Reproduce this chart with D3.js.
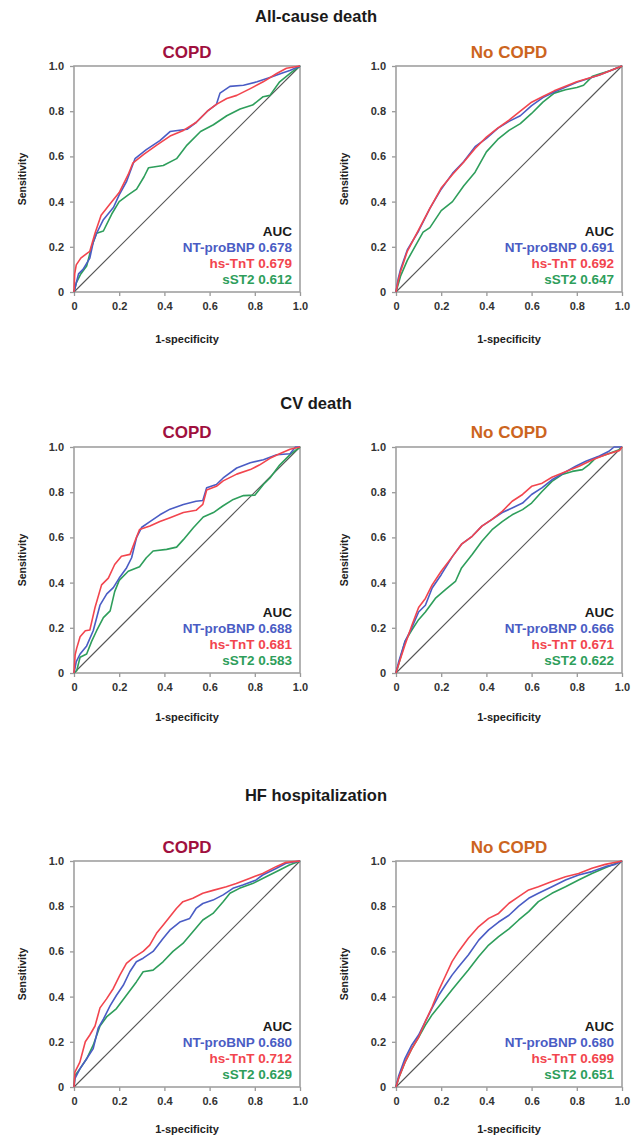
<!DOCTYPE html>
<html>
<head>
<meta charset="utf-8">
<script src="https://cdn.jsdelivr.net/npm/d3@7"></script>
<style>
  body { margin: 0; background: #fff; }
  svg { font-family: "Liberation Sans", Arial, sans-serif; }
</style>
</head>
<body>
<div id="chart"></div>
<script>
// outcomes, groups and markers
var outcomes = ["All-cause death", "CV death", "HF hospitalization"];
var groups = ["COPD", "No COPD"];
var markers = ["NT-proBNP", "hs-TnT", "sST2"];
var tickVals = [0, 0.2, 0.4, 0.6, 0.8, 1.0];

// AUC values [outcome][group][marker]
var aucAll = [["0.678", "0.679", "0.612"], ["0.691", "0.692", "0.647"]];
var aucCV = [["0.688", "0.681", "0.583"], ["0.666", "0.671", "0.622"]];
var aucHF = [["0.680", "0.712", "0.629"], ["0.680", "0.699", "0.651"]];

// ROC points [1-specificity, sensitivity]
var allCopdNT = [[0,0],[0.01,0.04],[0.02,0.08],[0.04,0.1],[0.07,0.15],[0.085,0.22],[0.1,0.26],[0.13,0.32],[0.175,0.375],[0.2,0.43],[0.233,0.49],[0.255,0.55],[0.27,0.59],[0.32,0.63],[0.38,0.67],[0.425,0.71],[0.5,0.72],[0.54,0.75],[0.59,0.8],[0.63,0.83],[0.646,0.88],[0.69,0.91],[0.75,0.915],[0.81,0.93],[0.87,0.95],[0.925,0.97],[0.955,0.98],[1,1]];
var allCopdTnT = [[0,0],[0.003,0.08],[0.01,0.12],[0.03,0.15],[0.056,0.17],[0.07,0.18],[0.093,0.26],[0.12,0.34],[0.16,0.39],[0.2,0.44],[0.24,0.52],[0.26,0.57],[0.31,0.61],[0.366,0.65],[0.425,0.69],[0.484,0.715],[0.54,0.75],[0.59,0.8],[0.63,0.83],[0.676,0.856],[0.72,0.87],[0.78,0.9],[0.837,0.93],[0.897,0.967],[0.94,0.99],[1,1]];
var allCopdST2 = [[0,0],[0.01,0.04],[0.03,0.08],[0.056,0.115],[0.078,0.2],[0.1,0.26],[0.13,0.27],[0.167,0.345],[0.2,0.4],[0.24,0.43],[0.277,0.455],[0.31,0.51],[0.33,0.55],[0.395,0.56],[0.454,0.59],[0.5,0.65],[0.56,0.71],[0.617,0.74],[0.676,0.78],[0.735,0.81],[0.79,0.827],[0.837,0.864],[0.867,0.87],[0.91,0.93],[0.956,0.967],[1,1]];

var allNoNT = [[0,0],[0.01,0.06],[0.02,0.1],[0.05,0.186],[0.1,0.27],[0.15,0.37],[0.2,0.455],[0.25,0.525],[0.3,0.577],[0.35,0.643],[0.4,0.68],[0.45,0.724],[0.5,0.755],[0.55,0.78],[0.6,0.825],[0.65,0.86],[0.7,0.885],[0.8,0.928],[0.9,0.96],[1,1]];
var allNoTnT = [[0,0],[0.01,0.05],[0.02,0.09],[0.05,0.18],[0.1,0.275],[0.15,0.37],[0.2,0.46],[0.25,0.52],[0.3,0.575],[0.35,0.635],[0.4,0.685],[0.45,0.725],[0.5,0.76],[0.55,0.8],[0.6,0.84],[0.65,0.865],[0.7,0.89],[0.8,0.93],[0.9,0.96],[1,1]];
var allNoST2 = [[0,0],[0.02,0.07],[0.05,0.14],[0.1,0.23],[0.12,0.265],[0.15,0.285],[0.2,0.36],[0.25,0.4],[0.3,0.47],[0.35,0.53],[0.4,0.62],[0.45,0.675],[0.5,0.715],[0.55,0.745],[0.6,0.79],[0.65,0.84],[0.7,0.88],[0.75,0.895],[0.8,0.905],[0.83,0.915],[0.87,0.955],[0.9,0.965],[0.95,0.98],[1,1]];

var cvCopdNT = [[0,0],[0.01,0.05],[0.027,0.084],[0.056,0.12],[0.085,0.187],[0.115,0.3],[0.145,0.35],[0.174,0.378],[0.2,0.42],[0.233,0.466],[0.255,0.51],[0.277,0.6],[0.3,0.645],[0.336,0.67],[0.38,0.7],[0.425,0.725],[0.484,0.746],[0.54,0.76],[0.57,0.763],[0.587,0.82],[0.63,0.834],[0.66,0.863],[0.72,0.907],[0.78,0.93],[0.838,0.944],[0.897,0.966],[0.956,0.97],[0.98,1],[1,1]];
var cvCopdTnT = [[0,0],[0.005,0.08],[0.012,0.11],[0.027,0.16],[0.05,0.187],[0.07,0.19],[0.093,0.29],[0.122,0.39],[0.152,0.42],[0.18,0.48],[0.21,0.517],[0.248,0.525],[0.27,0.584],[0.29,0.635],[0.336,0.65],[0.38,0.67],[0.425,0.687],[0.484,0.71],[0.54,0.72],[0.57,0.746],[0.587,0.81],[0.63,0.826],[0.66,0.85],[0.72,0.88],[0.78,0.9],[0.82,0.92],[0.867,0.95],[0.91,0.97],[0.956,0.99],[1,1]];
var cvCopdST2 = [[0,0],[0.012,0.01],[0.027,0.07],[0.056,0.084],[0.078,0.14],[0.1,0.187],[0.13,0.245],[0.16,0.275],[0.18,0.36],[0.2,0.41],[0.24,0.45],[0.29,0.47],[0.32,0.51],[0.35,0.54],[0.41,0.547],[0.454,0.557],[0.484,0.59],[0.528,0.643],[0.572,0.69],[0.617,0.71],[0.66,0.74],[0.705,0.768],[0.75,0.785],[0.8,0.787],[0.838,0.834],[0.867,0.863],[0.91,0.92],[0.956,0.966],[1,1]];

var cvNoNT = [[0,0],[0.012,0.05],[0.04,0.14],[0.07,0.2],[0.1,0.27],[0.13,0.3],[0.16,0.376],[0.2,0.435],[0.25,0.516],[0.29,0.57],[0.337,0.605],[0.38,0.65],[0.425,0.68],[0.47,0.71],[0.514,0.73],[0.56,0.752],[0.6,0.79],[0.647,0.82],[0.69,0.855],[0.75,0.89],[0.795,0.915],[0.84,0.937],[0.9,0.96],[0.94,0.98],[0.965,1],[1,1]];
var cvNoTnT = [[0,0],[0.012,0.04],[0.04,0.125],[0.07,0.21],[0.1,0.29],[0.13,0.33],[0.16,0.39],[0.2,0.45],[0.25,0.516],[0.29,0.57],[0.337,0.605],[0.38,0.65],[0.425,0.68],[0.47,0.715],[0.514,0.76],[0.56,0.79],[0.6,0.826],[0.647,0.84],[0.69,0.866],[0.75,0.89],[0.81,0.915],[0.87,0.944],[0.927,0.966],[0.99,0.985],[1,1]];
var cvNoST2 = [[0,0],[0.012,0.04],[0.04,0.14],[0.07,0.19],[0.1,0.236],[0.13,0.27],[0.174,0.33],[0.22,0.37],[0.263,0.405],[0.29,0.465],[0.337,0.524],[0.38,0.583],[0.425,0.634],[0.47,0.67],[0.514,0.7],[0.56,0.723],[0.6,0.752],[0.647,0.804],[0.69,0.848],[0.735,0.878],[0.78,0.892],[0.825,0.9],[0.854,0.922],[0.883,0.951],[0.927,0.966],[0.987,0.988],[1,1]];

var hfCopdNT = [[0,0],[0.004,0.037],[0.026,0.08],[0.056,0.125],[0.085,0.17],[0.107,0.26],[0.13,0.3],[0.16,0.36],[0.188,0.406],[0.218,0.45],[0.247,0.51],[0.276,0.554],[0.306,0.57],[0.35,0.6],[0.394,0.657],[0.424,0.694],[0.468,0.73],[0.512,0.746],[0.54,0.79],[0.57,0.812],[0.615,0.827],[0.66,0.85],[0.703,0.879],[0.747,0.894],[0.806,0.916],[0.835,0.938],[0.894,0.967],[0.938,0.99],[1,1]];
var hfCopdTnT = [[0,0],[0.004,0.066],[0.026,0.11],[0.05,0.2],[0.07,0.23],[0.093,0.27],[0.115,0.35],[0.144,0.39],[0.174,0.436],[0.203,0.495],[0.232,0.547],[0.26,0.57],[0.306,0.6],[0.335,0.628],[0.365,0.68],[0.394,0.716],[0.424,0.753],[0.453,0.79],[0.482,0.82],[0.526,0.835],[0.57,0.857],[0.615,0.87],[0.674,0.886],[0.718,0.9],[0.776,0.923],[0.835,0.945],[0.894,0.975],[0.938,0.994],[1,1]];
var hfCopdST2 = [[0,0],[0.004,0.05],[0.026,0.08],[0.056,0.125],[0.085,0.185],[0.115,0.27],[0.144,0.31],[0.188,0.347],[0.232,0.406],[0.276,0.465],[0.306,0.51],[0.35,0.517],[0.394,0.554],[0.438,0.6],[0.482,0.635],[0.526,0.687],[0.57,0.739],[0.615,0.768],[0.66,0.82],[0.69,0.857],[0.732,0.879],[0.79,0.9],[0.85,0.93],[0.91,0.96],[0.953,0.982],[1,1]];

var hfNoNT = [[0,0],[0.012,0.05],[0.04,0.127],[0.07,0.186],[0.1,0.23],[0.13,0.29],[0.16,0.35],[0.19,0.407],[0.218,0.45],[0.248,0.495],[0.277,0.532],[0.32,0.584],[0.366,0.65],[0.41,0.695],[0.454,0.73],[0.5,0.76],[0.543,0.8],[0.587,0.835],[0.63,0.857],[0.69,0.886],[0.75,0.916],[0.808,0.938],[0.867,0.953],[0.926,0.975],[0.97,0.985],[1,1]];
var hfNoTnT = [[0,0],[0.012,0.04],[0.04,0.11],[0.07,0.17],[0.1,0.22],[0.13,0.29],[0.16,0.355],[0.19,0.43],[0.218,0.49],[0.248,0.555],[0.277,0.6],[0.32,0.658],[0.366,0.71],[0.41,0.746],[0.454,0.768],[0.5,0.813],[0.543,0.842],[0.587,0.872],[0.63,0.886],[0.69,0.909],[0.75,0.93],[0.808,0.945],[0.867,0.968],[0.926,0.985],[1,1]];
var hfNoST2 = [[0,0],[0.012,0.04],[0.04,0.11],[0.07,0.17],[0.1,0.22],[0.13,0.274],[0.16,0.32],[0.2,0.37],[0.248,0.43],[0.277,0.466],[0.32,0.518],[0.366,0.577],[0.41,0.628],[0.454,0.665],[0.5,0.7],[0.543,0.739],[0.587,0.776],[0.63,0.82],[0.69,0.857],[0.75,0.886],[0.808,0.916],[0.867,0.945],[0.926,0.97],[0.985,0.994],[1,1]];

var rocs = [
  [[allCopdNT, allCopdTnT, allCopdST2], [allNoNT, allNoTnT, allNoST2]],
  [[cvCopdNT, cvCopdTnT, cvCopdST2], [cvNoNT, cvNoTnT, cvNoST2]],
  [[hfCopdNT, hfCopdTnT, hfCopdST2], [hfNoNT, hfNoTnT, hfNoST2]]
];
var aucs = [aucAll, aucCV, aucHF];

var svgWidth = 631;
var svgHeight = 1139;

var markerColors = ["#4a5cc4", "#f2454e", "#2e9e5b"];
var groupColors = ["#a0103e", "#cc6420"];

// layout
var plotLeft = [74, 396];
var plotTop = [66, 447, 861];
var titleY = [16, 403, 795];
var subY = [52, 432, 847];
var xLabelOff = [47, 44, 42];
var plotSize = 226;

var svg = d3.select("#chart")
  .append("svg")
  .attr("width", svgWidth)
  .attr("height", svgHeight);

var x = d3.scaleLinear().domain([0, 1]).range([0, plotSize]);
var y = d3.scaleLinear().domain([0, 1]).range([plotSize, 0]);

var line = d3.line()
  .x(d => x(d[0]))
  .y(d => y(d[1]));

var fmt = d => d === 0 ? "0" : d3.format(".1f")(d);

outcomes.forEach(function(outcome, r) {

  svg.append("text")
    .attr("x", 316)
    .attr("y", titleY[r])
    .attr("dy", "0.35em")
    .attr("text-anchor", "middle")
    .attr("font-size", "16.5px")
    .attr("font-weight", "bold")
    .attr("fill", "#1a1a1a")
    .text(outcome);

  groups.forEach(function(group, c) {
    var g = svg.append("g")
      .attr("transform", `translate(${plotLeft[c]}, ${plotTop[r]})`);

    // group title
    svg.append("text")
      .attr("x", plotLeft[c] + plotSize / 2)
      .attr("y", subY[r])
      .attr("dy", "0.35em")
      .attr("text-anchor", "middle")
      .attr("font-size", "17px")
      .attr("font-weight", "bold")
      .attr("fill", groupColors[c])
      .text(group);

    // axes
    var xAxis = g.append("g")
      .attr("transform", `translate(0, ${plotSize})`)
      .call(d3.axisBottom(x).tickValues(tickVals).tickFormat(fmt).tickSize(4).tickPadding(6));
    var yAxis = g.append("g")
      .call(d3.axisLeft(y).tickValues(tickVals).tickFormat(fmt).tickSize(4).tickPadding(6));

    [xAxis, yAxis].forEach(function(a) {
      a.select(".domain").remove();
      a.selectAll("line").attr("stroke", "#999").attr("stroke-width", 1.3);
      a.selectAll("text")
        .attr("font-size", "11px")
        .attr("font-weight", "bold")
        .attr("font-family", "'Liberation Sans', Arial, sans-serif")
        .attr("fill", "#333");
    });

    // frame
    g.append("rect")
      .attr("width", plotSize)
      .attr("height", plotSize)
      .attr("fill", "none")
      .attr("stroke", "#a0a0a0")
      .attr("stroke-width", 1.6);

    // reference diagonal
    g.append("line")
      .attr("x1", x(0)).attr("y1", y(0))
      .attr("x2", x(1)).attr("y2", y(1))
      .attr("stroke", "#555")
      .attr("stroke-width", 1.1);

    // ROC curves, green first so blue and red sit on top
    [2, 0, 1].forEach(function(m) {
      g.append("path")
        .datum(rocs[r][c][m])
        .attr("d", line)
        .attr("fill", "none")
        .attr("stroke", markerColors[m])
        .attr("stroke-width", 1.6)
        .attr("stroke-linejoin", "round");
    });

    // AUC legend
    var legend = g.append("g")
      .attr("text-anchor", "end")
      .attr("font-size", "13.5px")
      .attr("font-weight", "bold");

    legend.append("text")
      .attr("x", plotSize - 8)
      .attr("y", plotSize - 61)
      .attr("dy", "0.35em")
      .attr("fill", "#1a1a1a")
      .text("AUC");

    markers.forEach(function(mk, m) {
      legend.append("text")
        .attr("x", plotSize - 8)
        .attr("y", plotSize - 45 + m * 16)
        .attr("dy", "0.35em")
        .attr("fill", markerColors[m])
        .text(mk + " " + aucs[r][c][m]);
    });

    // axis titles
    svg.append("text")
      .attr("x", plotLeft[c] + plotSize / 2)
      .attr("y", plotTop[r] + plotSize + xLabelOff[r])
      .attr("dy", "0.35em")
      .attr("text-anchor", "middle")
      .attr("font-size", "11px")
      .attr("font-weight", "bold")
      .attr("fill", "#222")
      .text("1-specificity");

    svg.append("text")
      .attr("transform", `translate(${plotLeft[c] - 52}, ${plotTop[r] + plotSize / 2}) rotate(-90)`)
      .attr("dy", "0.35em")
      .attr("text-anchor", "middle")
      .attr("font-size", "10.5px")
      .attr("font-weight", "bold")
      .attr("fill", "#222")
      .text("Sensitivity");
  });
});
</script>
</body>
</html>
